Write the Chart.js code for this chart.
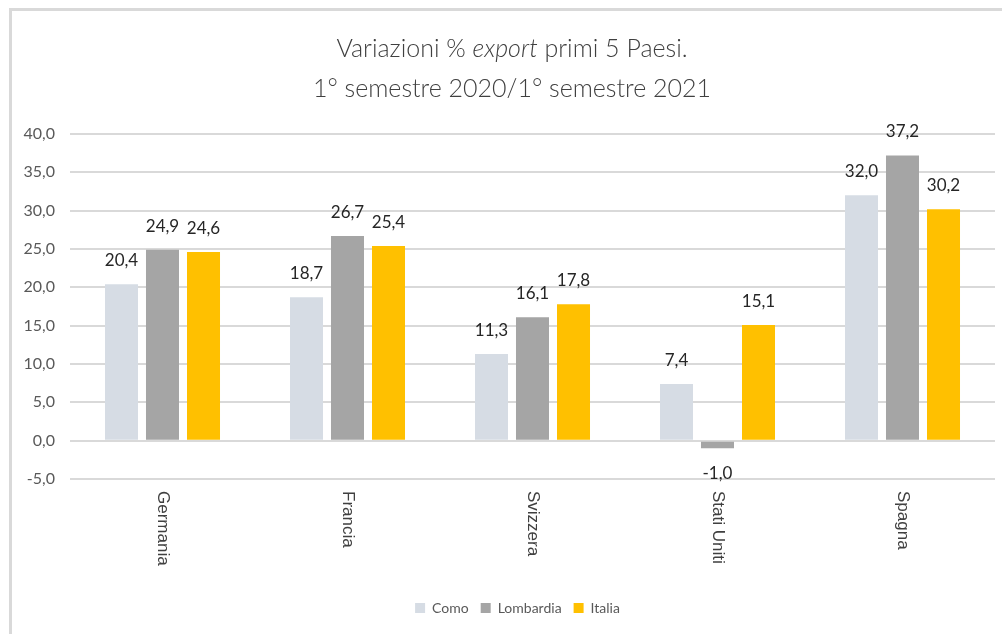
<!DOCTYPE html>
<html lang="it">
<head>
<meta charset="utf-8">
<title>Variazioni % export primi 5 Paesi</title>
<script src="https://cdn.jsdelivr.net/npm/chart.js@4/dist/chart.umd.min.js"></script>
<style>
  html, body { margin: 0; padding: 0; background: #fff; overflow: hidden; }
  #box { position: relative; width: 1002px; height: 634px; }
  #cornice { position: absolute; left: 9px; top: 8px; width: 1100px; height: 700px;
             border-left: 3px solid #d9d9d9; border-top: 3px solid #d9d9d9; }
  #titolo { position: absolute; left: 0; top: 27px; width: 1024px; text-align: center;
            font-family: Lato, "Open Sans", sans-serif; font-size: 25px; line-height: 40px;
            color: #404040; font-weight: 300; }
  canvas { position: absolute; left: 0; top: 0; }
</style>
</head>
<body>
<div id="box">
  <div id="cornice"></div>
  <canvas id="grafico" width="1002" height="634"></canvas>
  <div id="titolo">Variazioni % <em>export</em> primi 5 Paesi.<br>1° semestre 2020/1° semestre 2021</div>
</div>
<script>
// --- DATI ---
const paesi = ['Germania', 'Francia', 'Svizzera', 'Stati Uniti', 'Spagna'];
const como = [20.4, 18.7, 11.3, 7.4, 32.0];
const lombardia = [24.9, 26.7, 16.1, -1.0, 37.2];
const italia = [24.6, 25.4, 17.8, 15.1, 30.2];
const tickAsseY = [-5, 0, 5, 10, 15, 20, 25, 30, 35, 40];

// 20.4 -> "20,4"
function virgola(v) {
    return v.toFixed(1).replace('.', ',');
}

// Etichette sopra/sotto le barre
const etichetteValori = {
    id: 'etichetteValori',
    afterDatasetsDraw(chart) {
        const ctx = chart.ctx;
        ctx.save();
        ctx.font = '17px Lato, "Open Sans", sans-serif';
        ctx.fillStyle = '#262626';
        ctx.textAlign = 'center';
        chart.data.datasets.forEach((ds, i) => {
            chart.getDatasetMeta(i).data.forEach((bar, j) => {
                const v = ds.data[j];
                if (v >= 0) {
                    ctx.textBaseline = 'bottom';
                    ctx.fillText(virgola(v), bar.x, bar.y - 15);
                } else {
                    ctx.textBaseline = 'top';
                    ctx.fillText(virgola(v), bar.x, bar.y + 17);
                }
            });
        });
        ctx.restore();
    }
};

// Etichette asse X ruotate in senso orario
const etichetteAsseX = {
    id: 'etichetteAsseX',
    afterDraw(chart) {
        const ctx = chart.ctx;
        const sx = chart.scales.x;
        ctx.save();
        ctx.font = '17px "Liberation Sans", Arial, sans-serif';
        ctx.fillStyle = '#404040';
        ctx.textAlign = 'left';
        ctx.textBaseline = 'middle';
        paesi.forEach((p, i) => {
            ctx.save();
            ctx.translate(sx.getPixelForTick(i), chart.chartArea.bottom + 12);
            ctx.rotate(Math.PI / 2);
            ctx.fillText(p, 0, 0);
            ctx.restore();
        });
        ctx.restore();
    }
};

// La legenda nell'originale è un po' spostata a destra
const spostaLegenda = {
    id: 'spostaLegenda',
    afterLayout(chart) {
        chart.legend.left += 20;
        chart.legend.right += 20;
    }
};

new Chart(document.getElementById('grafico'), {
    type: 'bar',
    data: {
        labels: paesi,
        datasets: [
            { label: 'Como', data: como, backgroundColor: '#d6dce4' },
            { label: 'Lombardia', data: lombardia, backgroundColor: '#a5a5a5' },
            { label: 'Italia', data: italia, backgroundColor: '#ffc000' }
        ]
    },
    options: {
        responsive: false,
        animation: false,
        devicePixelRatio: 1,
        categoryPercentage: 0.665,
        barPercentage: 0.805,
        layout: { padding: { top: 134, right: 7, bottom: 9, left: 0 } },
        plugins: {
            title: { display: false },
            tooltip: { enabled: false },
            legend: {
                position: 'bottom',
                labels: {
                    boxWidth: 10,
                    boxHeight: 10,
                    padding: 12,
                    color: '#595959',
                    font: { family: 'Lato, "Open Sans", sans-serif', size: 14 }
                }
            }
        },
        scales: {
            x: {
                grid: { display: false },
                border: { display: false },
                ticks: { display: false },
                afterFit(s) { s.height = 110; }
            },
            y: {
                min: -5,
                max: 40,
                afterBuildTicks(s) { s.ticks = tickAsseY.map(v => ({ value: v })); },
                afterFit(s) { s.width = 70; },
                grid: { color: '#d9d9d9', lineWidth: 2, drawTicks: false },
                border: { display: false },
                ticks: {
                    padding: 15,
                    color: '#595959',
                    font: { family: 'Lato, "Open Sans", sans-serif', size: 16 },
                    callback: v => virgola(v)
                }
            }
        }
    },
    plugins: [etichetteValori, etichetteAsseX, spostaLegenda]
});
</script>
</body>
</html>
